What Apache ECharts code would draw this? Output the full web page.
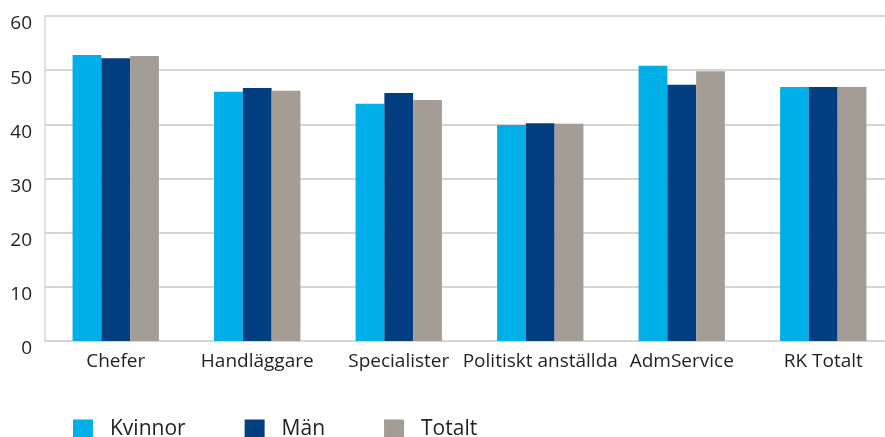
<!DOCTYPE html>
<html>
<head>
<meta charset="utf-8">
<script src="https://cdn.jsdelivr.net/npm/echarts@6/dist/echarts.min.js"></script>
<style>
html,body{margin:0;padding:0;background:#fff;overflow:hidden;width:885px;height:437px;}
#chart{width:900px;height:437px;}
</style>
</head>
<body>
<div id="chart"></div>
<script>
const categories = ['Chefer', 'Handläggare', 'Specialister', 'Politiskt anställda', 'AdmService', 'RK Totalt'];
const kvinnor = [52.8, 46.0, 43.8, 39.9, 50.8, 46.9];
const man = [52.2, 46.7, 45.8, 40.2, 47.3, 46.9];
const totalt = [52.6, 46.2, 44.5, 40.1, 49.8, 46.9];
const yTicks = [0, 10, 20, 30, 40, 50, 60];

const font = '"Open Sans", sans-serif';
const chart = echarts.init(document.getElementById('chart'), null, {renderer: 'canvas'});
chart.setOption({
  animation: false,
  backgroundColor: '#ffffff',
  textStyle: {fontFamily: font},
  grid: {left: 45, top: 16, width: 849, height: 325, containLabel: false},
  legend: {
    left: 73, top: 419, padding: 0,
    itemWidth: 20, itemHeight: 20, itemGap: 59,
    icon: 'rect',
    textStyle: {fontFamily: font, fontSize: 21, color: '#231f20', padding: [6, 0, 0, 12]},
    data: ['Kvinnor', 'Män', 'Totalt']
  },
  xAxis: {
    type: 'category',
    data: categories,
    axisLine: {show: true, lineStyle: {color: '#d9d5d2', width: 1.5}},
    axisTick: {show: false},
    axisLabel: {fontFamily: font, fontSize: 19, color: '#231f20', margin: 11, interval: 0}
  },
  yAxis: {
    type: 'value',
    min: yTicks[0], max: yTicks[yTicks.length - 1], interval: 10,
    axisLine: {show: true, lineStyle: {color: '#d9d5d2', width: 1.5}},
    axisTick: {show: false},
    splitLine: {show: true, lineStyle: {color: '#d9d5d2', width: 2}},
    axisLabel: {fontFamily: font, fontSize: 19, color: '#231f20', margin: 13, verticalAlign: 'top', lineHeight: 16}
  },
  series: [
    {name: 'Kvinnor', type: 'bar', data: kvinnor, barGap: '0%', barCategoryGap: '39%', itemStyle: {color: '#00aee8'}},
    {name: 'Män', type: 'bar', data: man, barGap: '0%', barCategoryGap: '39%', itemStyle: {color: '#033e80'}},
    {name: 'Totalt', type: 'bar', data: totalt, barGap: '0%', barCategoryGap: '39%', itemStyle: {color: '#a39d96'}}
  ]
});
</script>
</body>
</html>
